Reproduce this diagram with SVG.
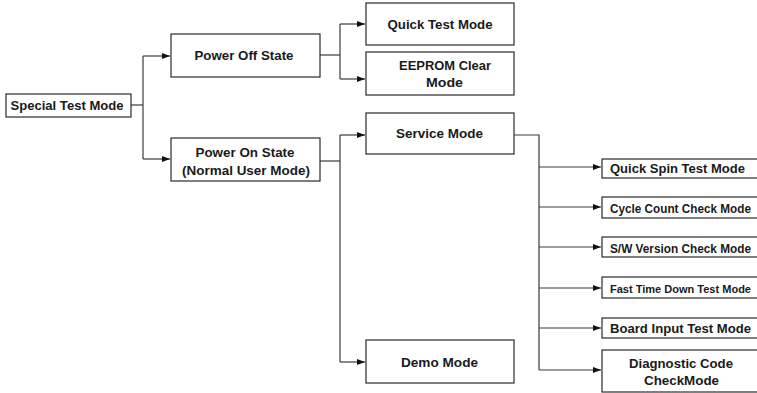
<svg xmlns="http://www.w3.org/2000/svg" width="757" height="393" viewBox="0 0 757 393">
<style>
.box{fill:#fff;stroke:#2a2a2a;stroke-width:1.2}
.t{font-family:"Liberation Sans",Arial,sans-serif;font-weight:bold;font-size:13px;fill:#1a1a1a;text-anchor:middle}
.s{font-size:12px;text-anchor:start}
.n{font-size:11px}
.c{fill:none;stroke:#3a3a3a;stroke-width:1.2}
</style>
<defs>
<marker id="ar" viewBox="0 0 8 6" refX="8" refY="3" markerWidth="8" markerHeight="6" markerUnits="userSpaceOnUse" orient="auto">
<path d="M0,0 L8,3 L0,6 Z" fill="#111"/>
</marker>
</defs>
<rect width="757" height="393" fill="#fff"/>
<g id="connectors">
<path class="c" d="M131,105 H143"/>
<path class="c" d="M143,56 V159"/>
<path class="c" d="M143,56 H170" marker-end="url(#ar)"/>
<path class="c" d="M143,159 H170" marker-end="url(#ar)"/>
<path class="c" d="M320,55 H340"/>
<path class="c" d="M340,24 V79"/>
<path class="c" d="M340,24 H365" marker-end="url(#ar)"/>
<path class="c" d="M340,79 H365" marker-end="url(#ar)"/>
<path class="c" d="M320,161 H340"/>
<path class="c" d="M340,135 V362"/>
<path class="c" d="M340,135 H365" marker-end="url(#ar)"/>
<path class="c" d="M340,362 H365" marker-end="url(#ar)"/>
<path class="c" d="M514,135 H539 V370"/>
<path class="c" d="M539,167 H601" marker-end="url(#ar)"/>
<path class="c" d="M539,207 H601" marker-end="url(#ar)"/>
<path class="c" d="M539,247 H601" marker-end="url(#ar)"/>
<path class="c" d="M539,288 H601" marker-end="url(#ar)"/>
<path class="c" d="M539,328 H601" marker-end="url(#ar)"/>
<path class="c" d="M539,370 H601" marker-end="url(#ar)"/>
</g>
<g id="special">
<rect class="box" x="6" y="94" width="125" height="23"/>
<text class="t" x="67" y="110" textLength="113" lengthAdjust="spacingAndGlyphs">Special Test Mode</text>
</g>
<g id="poweroff">
<rect class="box" x="171" y="34" width="149" height="43"/>
<text class="t" x="244" y="60" textLength="99" lengthAdjust="spacingAndGlyphs">Power Off State</text>
</g>
<g id="poweron">
<rect class="box" x="171" y="138" width="149" height="43"/>
<text class="t" x="245" y="157" textLength="99" lengthAdjust="spacingAndGlyphs">Power On State</text>
<text class="t" x="246" y="175" textLength="128" lengthAdjust="spacingAndGlyphs">(Normal User Mode)</text>
</g>
<g id="quicktest">
<rect class="box" x="366" y="3" width="148" height="42"/>
<text class="t" x="440" y="29" textLength="105" lengthAdjust="spacingAndGlyphs">Quick Test Mode</text>
</g>
<g id="eeprom">
<rect class="box" x="366" y="52" width="148" height="43"/>
<text class="t" x="445" y="70" textLength="92" lengthAdjust="spacingAndGlyphs">EEPROM Clear</text>
<text class="t" x="444.5" y="87" textLength="37" lengthAdjust="spacingAndGlyphs">Mode</text>
</g>
<g id="service">
<rect class="box" x="366" y="113" width="148" height="41"/>
<text class="t" x="439.5" y="138" textLength="87" lengthAdjust="spacingAndGlyphs">Service Mode</text>
</g>
<g id="demo">
<rect class="box" x="366" y="340" width="148" height="43"/>
<text class="t" x="439.5" y="367" textLength="77" lengthAdjust="spacingAndGlyphs">Demo Mode</text>
</g>
<g id="quickspin">
<rect class="box" x="602" y="159" width="156" height="19"/>
<text class="t s" x="610" y="173" textLength="135" lengthAdjust="spacingAndGlyphs">Quick Spin Test Mode</text>
</g>
<g id="cyclecount">
<rect class="box" x="602" y="197" width="156" height="21"/>
<text class="t s" x="610" y="213" textLength="141" lengthAdjust="spacingAndGlyphs">Cycle Count Check Mode</text>
</g>
<g id="swversion">
<rect class="box" x="602" y="237" width="156" height="20"/>
<text class="t s" x="610" y="253" textLength="141" lengthAdjust="spacingAndGlyphs">S/W Version Check Mode</text>
</g>
<g id="fasttime">
<rect class="box" x="602" y="277" width="156" height="21"/>
<text class="t s n" x="610" y="293" textLength="141" lengthAdjust="spacingAndGlyphs">Fast Time Down Test Mode</text>
</g>
<g id="boardinput">
<rect class="box" x="602" y="318" width="156" height="20"/>
<text class="t s" x="610" y="333" textLength="141" lengthAdjust="spacingAndGlyphs">Board Input Test Mode</text>
</g>
<g id="diagnostic">
<rect class="box" x="602" y="350" width="156" height="42"/>
<text class="t" x="681" y="368" textLength="104" lengthAdjust="spacingAndGlyphs">Diagnostic Code</text>
<text class="t" x="681.5" y="385" textLength="75" lengthAdjust="spacingAndGlyphs">CheckMode</text>
</g>
</svg>
